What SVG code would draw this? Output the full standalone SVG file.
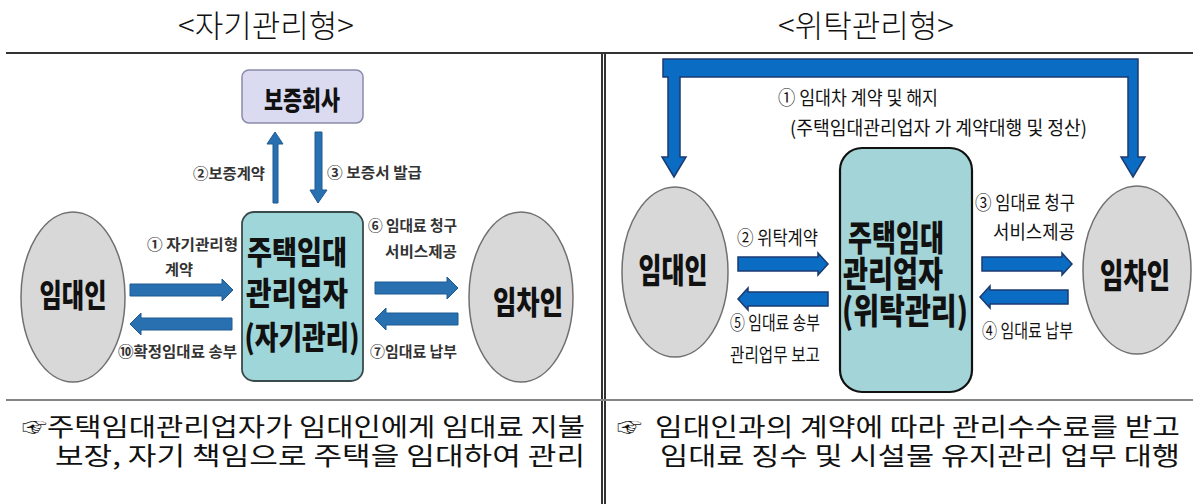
<svg xmlns="http://www.w3.org/2000/svg" width="1193" height="504" viewBox="0 0 1193 504">
<style>
text{font-family:"Noto Sans CJK KR","Noto Sans",sans-serif;fill:#111;}
.title{font-size:31px;font-weight:300;text-anchor:middle;}
.foot{font-size:25px;font-weight:400;}
.big{font-weight:900;text-anchor:middle;}
.lbl{font-size:15px;font-weight:700;fill:#333;}
.rl{font-size:19px;font-weight:400;}
.ell{fill:#d8d8d8;stroke:#707070;stroke-width:1.5;}
.arrL{fill:#2870b0;stroke:#1d5a92;stroke-width:1;}
.arrR{fill:#0a6cc2;stroke:#1b3a70;stroke-width:1.5;}
.rule{stroke:#333;stroke-width:2;fill:none;}
</style>
<rect width="1193" height="504" fill="#fff"/>
<g id="frame">
<line class="rule" x1="6" y1="53" x2="1193" y2="53"/>
<line class="rule" x1="602" y1="53" x2="602" y2="504"/>
<line class="rule" x1="605" y1="53" x2="605" y2="504"/>
<line x1="6" y1="400" x2="1193" y2="400" stroke="#858585" stroke-width="2"/>
</g>
<g id="titles">
<text class="title" x="266" y="37">&lt;자기관리형&gt;</text>
<text class="title" x="866" y="37">&lt;위탁관리형&gt;</text>
</g>

<g id="L-guarantor">
<rect x="242" y="70" width="121" height="53" rx="7" fill="#dadaf0" stroke="#8a8aa8" stroke-width="1.5"/>
<text class="big" x="302" y="110" font-size="26" textLength="76" lengthAdjust="spacingAndGlyphs">보증회사</text>
</g>
<g id="L-manager">
<rect x="242" y="212" width="121" height="169" rx="12" fill="#9fd6da" stroke="#3b4a4a" stroke-width="1.8"/>
<text class="big" font-size="32"><tspan x="297" y="264" textLength="100" lengthAdjust="spacingAndGlyphs">주택임대</tspan><tspan x="297" y="305" textLength="102" lengthAdjust="spacingAndGlyphs">관리업자</tspan><tspan x="302" y="349" textLength="115" lengthAdjust="spacingAndGlyphs">(자기관리)</tspan></text>
</g>
<g id="L-lessor">
<ellipse class="ell" cx="73" cy="297" rx="52" ry="85"/>
<text class="big" x="73" y="307" font-size="32" textLength="67" lengthAdjust="spacingAndGlyphs">임대인</text>
</g>
<g id="L-lessee">
<ellipse class="ell" cx="521" cy="297" rx="52" ry="85"/>
<text class="big" x="528" y="314" font-size="32" textLength="70" lengthAdjust="spacingAndGlyphs">임차인</text>
</g>
<g id="L-connectors">
<polygon class="arrL" points="273,203 273,144 267,144 275,132 283,144 278,144 278,203"/>
<polygon class="arrL" points="315,132 322,132 322,190 327,190 318,203 310,190 315,190"/>
<polygon class="arrL" points="130,284 222,284 222,279 233,290 222,301 222,296 130,296"/>
<polygon class="arrL" points="232,318 141,318 141,313 130,324 141,335 141,330 232,330"/>
<polygon class="arrL" points="375,282 447,282 447,277 458,288 447,299 447,294 375,294"/>
<polygon class="arrL" points="458,313 386,313 386,308 375,319 386,330 386,325 458,325"/>
</g>
<g id="L-labels">
<text class="lbl" x="193" y="179" textLength="72" lengthAdjust="spacingAndGlyphs">②보증계약</text>
<text class="lbl" x="327" y="178" textLength="95" lengthAdjust="spacingAndGlyphs">③ 보증서 발급</text>
<text class="lbl"><tspan x="147" y="250" textLength="91" lengthAdjust="spacingAndGlyphs">① 자기관리형</tspan><tspan x="165" y="275" textLength="28" lengthAdjust="spacingAndGlyphs">계약</tspan></text>
<text class="lbl" x="118" y="357" textLength="119" lengthAdjust="spacingAndGlyphs">⑩확정임대료 송부</text>
<text class="lbl"><tspan x="368" y="231" textLength="89" lengthAdjust="spacingAndGlyphs">⑥ 임대료 청구</tspan><tspan x="385" y="257" textLength="72" lengthAdjust="spacingAndGlyphs">서비스제공</tspan></text>
<text class="lbl" x="370" y="357" textLength="87" lengthAdjust="spacingAndGlyphs">⑦임대료 납부</text>
</g>

<g id="R-manager">
<rect x="840" y="148" width="132" height="244" rx="22" fill="#a3d4d8" stroke="#111" stroke-width="2.2"/>
<text class="big" font-size="35"><tspan x="896" y="251" textLength="96" lengthAdjust="spacingAndGlyphs">주택임대</tspan><tspan x="893" y="287" textLength="100" lengthAdjust="spacingAndGlyphs">관리업자</tspan><tspan x="905" y="324" textLength="126" lengthAdjust="spacingAndGlyphs">(위탁관리)</tspan></text>
</g>
<g id="R-lessor">
<ellipse class="ell" cx="675" cy="272" rx="53" ry="85"/>
<text class="big" x="673" y="283" font-size="34" textLength="69" lengthAdjust="spacingAndGlyphs">임대인</text>
</g>
<g id="R-lessee">
<ellipse class="ell" cx="1137" cy="270" rx="54" ry="84"/>
<text class="big" x="1135" y="288" font-size="34" textLength="70" lengthAdjust="spacingAndGlyphs">임차인</text>
</g>
<g id="R-connectors">
<polygon class="arrR" points="663,59 1138,59 1138,157 1145,157 1133,177 1121,157 1128,157 1128,77 680,77 680,157 686,157 674,177 662,157 668,157 668,77 663,77"/>
<polygon class="arrR" points="738,257 818,257 818,253 828,264 818,275 818,271 738,271" stroke-width="1"/>
<polygon class="arrR" points="828,292 748,292 748,288 738,299 748,310 748,306 828,306" stroke-width="1"/>
<polygon class="arrR" points="982,257 1062,257 1062,253 1072,264 1062,275 1062,271 982,271" stroke-width="1"/>
<polygon class="arrR" points="1068,290 990,290 990,286 980,297 990,308 990,304 1068,304" stroke-width="1"/>
</g>
<g id="R-labels">
<text class="rl"><tspan x="778" y="105" textLength="160" lengthAdjust="spacingAndGlyphs">① 임대차 계약 및 해지</tspan><tspan x="790" y="135" textLength="297" lengthAdjust="spacingAndGlyphs">(주택임대관리업자 가 계약대행 및 정산)</tspan></text>
<text class="rl" x="737" y="245" textLength="81" lengthAdjust="spacingAndGlyphs">② 위탁계약</text>
<text class="rl"><tspan x="730" y="330" textLength="90" lengthAdjust="spacingAndGlyphs">⑤ 임대료 송부</tspan><tspan x="730" y="362" textLength="90" lengthAdjust="spacingAndGlyphs">관리업무 보고</tspan></text>
<text class="rl"><tspan x="975" y="210" textLength="100" lengthAdjust="spacingAndGlyphs">③ 임대료 청구</tspan><tspan x="993" y="239" textLength="82" lengthAdjust="spacingAndGlyphs">서비스제공</tspan></text>
<text class="rl" x="982" y="338" textLength="91" lengthAdjust="spacingAndGlyphs">④ 임대료 납부</text>
</g>

<g id="notes">
<text class="foot" x="22" y="436" font-size="22">☞</text>
<text class="foot"><tspan x="47" y="436" textLength="538" lengthAdjust="spacingAndGlyphs">주택임대관리업자가 임대인에게  임대료 지불</tspan><tspan x="55" y="465" textLength="530" lengthAdjust="spacingAndGlyphs">보장, 자기 책임으로 주택을 임대하여 관리</tspan></text>
<text class="foot" x="617" y="436" font-size="22">☞</text>
<text class="foot"><tspan x="655" y="436" textLength="525" lengthAdjust="spacingAndGlyphs">임대인과의  계약에  따라  관리수수료를  받고</tspan><tspan x="660" y="465" textLength="520" lengthAdjust="spacingAndGlyphs">임대료 징수 및 시설물 유지관리 업무 대행</tspan></text>
</g>
</svg>
